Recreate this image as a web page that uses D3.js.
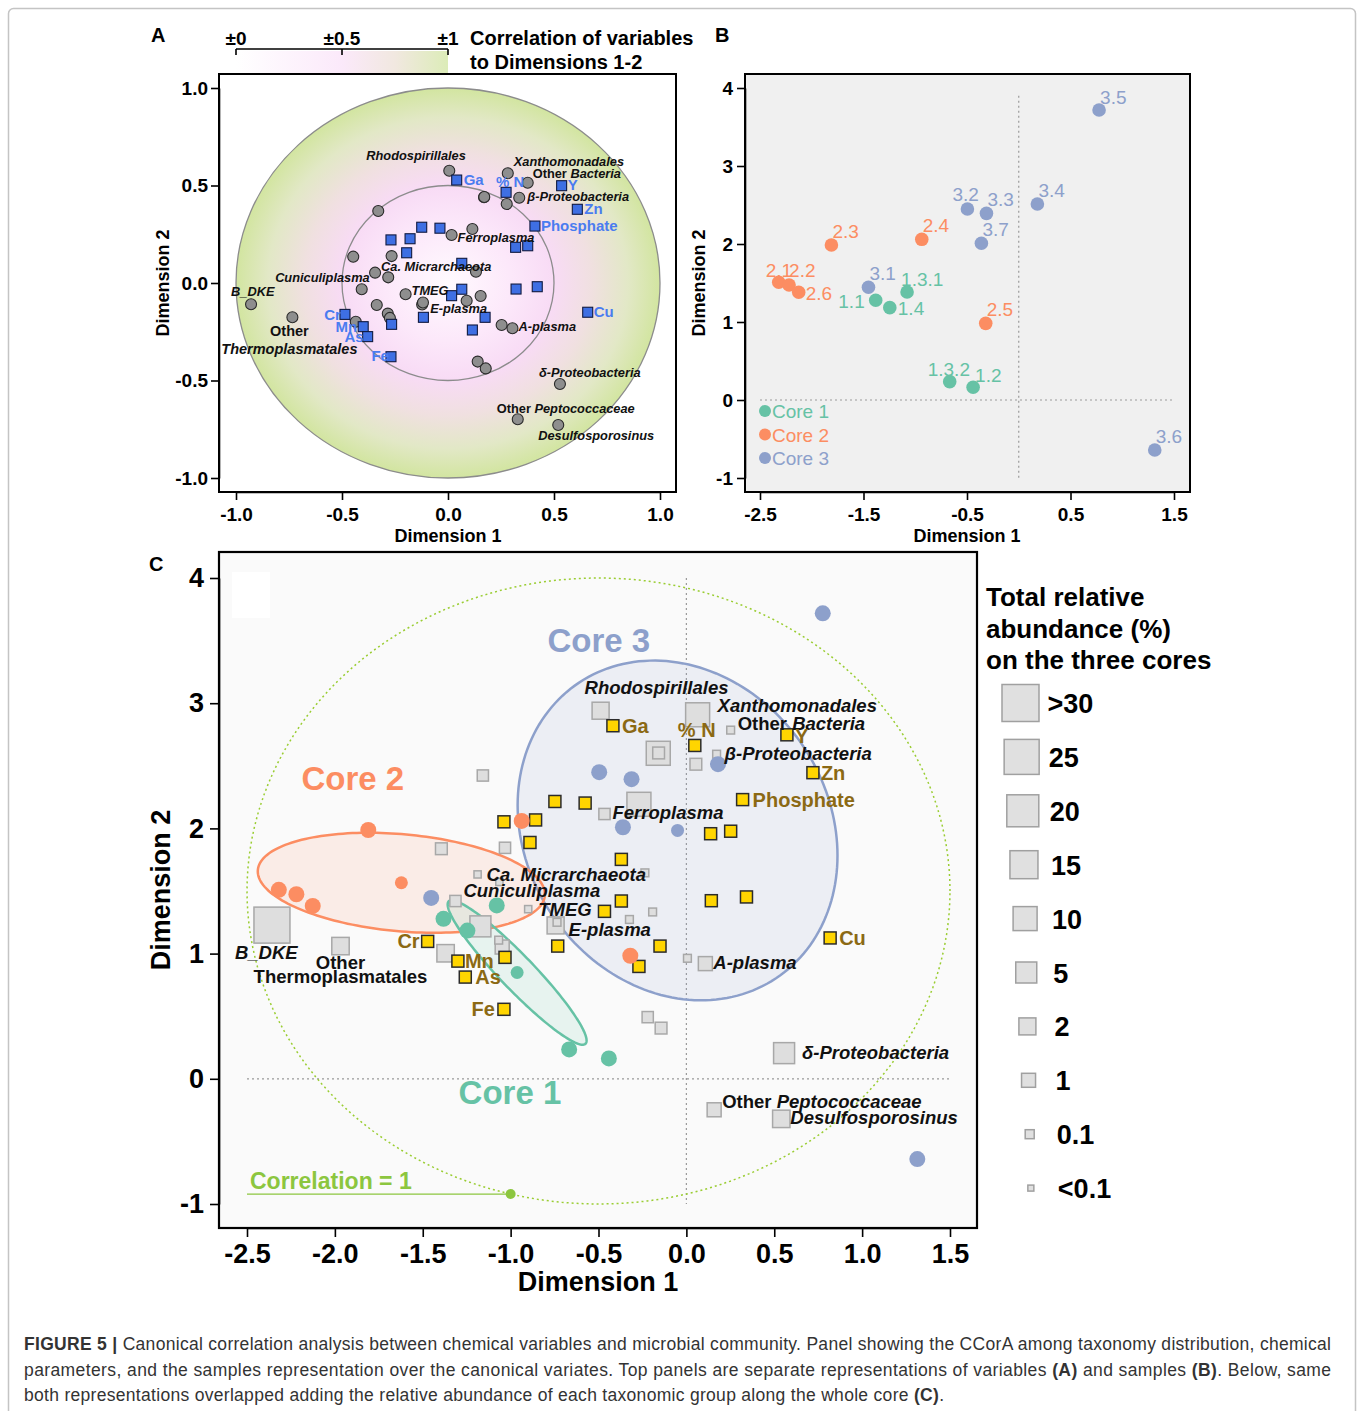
<!DOCTYPE html>
<html>
<head>
<meta charset="utf-8">
<style>
  body { margin: 0; background: #fff; }
  svg text { font-family: "Liberation Sans", Arial, Helvetica, sans-serif; }
</style>
</head>
<body>
<svg id="fig" width="1360" height="1411"></svg>
<script src="https://cdn.jsdelivr.net/npm/d3@7"></script>
<script>
// ---------- data ----------
// samples (panels B and C)
const sampleNames = ["1.1", "1.2", "1.3.1", "1.3.2", "1.4", "2.1", "2.2", "2.3", "2.4", "2.5", "2.6",
  "3.1", "3.2", "3.3", "3.4", "3.5", "3.6", "3.7"];
const sampleCore = [1, 1, 1, 1, 1, 2, 2, 2, 2, 2, 2, 3, 3, 3, 3, 3, 3, 3];
const sampleDim1 = [-1.382, -0.441, -1.079, -0.667, -1.246, -2.319, -2.219, -1.810, -0.937, -0.319, -2.126,
  -1.452, -0.496, -0.312, 0.180, 0.776, 1.314, -0.361];
const sampleDim2 = [1.278, 0.163, 1.385, 0.235, 1.184, 1.509, 1.474, 1.987, 2.060, 0.983, 1.381,
  1.445, 2.449, 2.393, 2.513, 3.718, -0.641, 2.009];

const coreNames = ["Core 1", "Core 2", "Core 3"];
// confidence ellipse semi-axis vectors, in (Dimension 1, Dimension 2) units
const coreAxisA = [[0.389, -0.569], [0.817, -0.091], [0.910, -0.200]];
const coreAxisB = [[-0.070, -0.094], [0, -0.389], [0, -1.342]];

// chemical variables: correlation with dimensions 1-2
const chemNames = ["Ga", "% N", "Y", "Zn", "Phosphate", "Cu", "Cr", "Mn", "As", "Fe",
  "", "", "", "", "", "", "", "", "", "", "", "", "", "", "", ""];
const chemDim1 = [0.041, 0.274, 0.536, 0.610, 0.410, 0.659, -0.486, -0.400, -0.379, -0.269,
  -0.124, -0.038, -0.269, -0.179, -0.195, 0.017, 0.065, -0.116, -0.266, 0.175, 0.115, 0.321, 0.421, 0.319, 0.376, 0.065];
const chemDim2 = [0.528, 0.465, 0.499, 0.378, 0.292, -0.150, -0.161, -0.224, -0.275, -0.378,
  0.286, 0.281, 0.221, 0.227, 0.155, -0.065, -0.032, -0.176, -0.212, -0.176, -0.241, -0.031, -0.019, 0.183, 0.191, 0.101];

// taxa: correlation with dimensions 1-2 and total relative abundance (%)
const taxaNames = ["Rhodospirillales", "", "", "", "Ca. Micrarchaeota", "", "Cuniculiplasma", "TMEG",
  "E-plasma", "", "", "", "", "", "B_DKE", "Other Thermoplasmatales", "", "", "", "A-plasma", "", "",
  "δ-Proteobacteria", "Other Peptococcaceae", "Desulfosporosinus", "", "", "Xanthomonadales",
  "Other Bacteria", "", "β-Proteobacteria", "Ferroplasma", "", ""];
const taxaDim1 = [0.006, -0.329, -0.447, -0.266, -0.344, -0.282, -0.407, -0.200,
  -0.122, -0.118, -0.336, -0.284, -0.274, -0.435, -0.929, -0.734, 0.088, 0.154, 0.253, 0.304, 0.140, 0.178,
  0.528, 0.329, 0.520, 0.170, 0.171, 0.282,
  0.376, 0.277, 0.336, 0.017, 0.115, 0.132];
const taxaDim2 = [0.576, 0.369, 0.135, 0.138, 0.053, 0.029, -0.032, -0.058,
  -0.110, -0.100, -0.113, -0.157, -0.179, -0.199, -0.109, -0.176, -0.091, -0.067, -0.215, -0.232, -0.403, -0.438,
  -0.518, -0.699, -0.728, 0.440, 0.441, 0.563,
  0.514, 0.405, 0.437, 0.246, 0.277, 0.058];
const taxaAbundance = [2, 0.5, 0.6, 0.5, 0.07, 0.07, 0.5, 0.07,
  2, 0.08, 5, 0.08, 1, 2.3, 30, 2.3, 0.08, 0.08, 0.08, 1, 0.5, 0.6,
  5, 1, 2.3, 10, 0.6, 10,
  0.08, 0.6, 0.08, 0.5, 10, 0.08];

const abundanceLabels = [">30", "25", "20", "15", "10", "5", "2", "1", "0.1", "<0.1"];
const abundanceValues = [35, 25, 20, 15, 10, 5, 2, 1, 0.1, 0.05];

const ticksA = [-1, -0.5, 0, 0.5, 1];
const ticksBx = [-2.5, -1.5, -0.5, 0.5, 1.5];
const ticksBy = [-1, 0, 1, 2, 3, 4];
const ticksCx = [-2.5, -2, -1.5, -1, -0.5, 0, 0.5, 1, 1.5];
const ticksCy = [-1, 0, 1, 2, 3, 4];
const corrTicks = [0, 0.5, 1];
const corrTickLabels = ["±0", "±0.5", "±1"];

// ---------- layout / style ----------
const FONT = '"Liberation Sans", Arial, Helvetica, sans-serif';
const coreColor = ["#66c2a5", "#fc8d62", "#8da0cb"];
const chemBlue = "#3e6fe3";
const chemBrown = "#8b6914";

// label nudges (px from the mark)
const labelA = {
  "Rhodospirillales": { dx: -83, dy: -11 },
  "Ca. Micrarchaeota": { dx: 6, dy: -2 },
  "Cuniculiplasma": { dx: 8, dy: -7, anchor: "end" },
  "TMEG": { dx: 6, dy: 1 },
  "E-plasma": { dx: 8, dy: 9 },
  "A-plasma": { dx: 6, dy: 3 },
  "B_DKE": { dx: -20, dy: -8 },
  "Other Thermoplasmatales": { dx: -3, dy: 19, anchor: "middle", gap: 18, size: 14.5 },
  "δ-Proteobacteria": { dx: -21, dy: -7 },
  "Other Peptococcaceae": { dx: -21, dy: -6 },
  "Desulfosporosinus": { dx: -20, dy: 15 },
  "Xanthomonadales": { dx: 6, dy: -7 },
  "Other Bacteria": { dx: 5, dy: -5 },
  "β-Proteobacteria": { dx: 8, dy: 3 },
  "Ferroplasma": { dx: 6, dy: 7 },
  "Ga": { dx: 7, dy: 5 }, "% N": { dx: -10, dy: -5 }, "Y": { dx: 6, dy: 4 }, "Zn": { dx: 7, dy: 5 },
  "Phosphate": { dx: 6, dy: 5 }, "Cu": { dx: 6, dy: 5 },
  "Cr": { dx: -4, dy: 6, anchor: "end" }, "Mn": { dx: -6, dy: 5, anchor: "end" },
  "As": { dx: -4, dy: 5, anchor: "end" }, "Fe": { dx: -2, dy: 4, anchor: "end" }
};
const labelC = {
  "Rhodospirillales": { dx: -16, dy: -17 },
  "Ca. Micrarchaeota": { dx: 9, dy: 7 },
  "Cuniculiplasma": { dx: 8, dy: -4 },
  "TMEG": { dx: 10, dy: 7 },
  "E-plasma": { dx: 13, dy: 11 },
  "A-plasma": { dx: 8, dy: 5 },
  "B_DKE": { dx: -37, dy: 34 },
  "Other Thermoplasmatales": { dx: 0, dy: 23, anchor: "middle", gap: 14, upright: true },
  "δ-Proteobacteria": { dx: 18, dy: 6 },
  "Other Peptococcaceae": { dx: 8, dy: -2 },
  "Desulfosporosinus": { dx: 9, dy: 5 },
  "Xanthomonadales": { dx: 20, dy: -3 },
  "Other Bacteria": { dx: 7, dy: 0 },
  "β-Proteobacteria": { dx: 8, dy: 6 },
  "Ferroplasma": { dx: 8, dy: 5 },
  "Ga": { dx: 9, dy: 7 }, "% N": { dx: -17, dy: -8 }, "Y": { dx: 8, dy: 8 }, "Zn": { dx: 8, dy: 7 },
  "Phosphate": { dx: 10, dy: 7 }, "Cu": { dx: 9, dy: 7 },
  "Cr": { dx: -8, dy: 7, anchor: "end" }, "Mn": { dx: 7, dy: 7 },
  "As": { dx: 10, dy: 7 }, "Fe": { dx: -9, dy: 7, anchor: "end" }
};
const labelB = {
  "3.2": [-15, -8], "2.1": [-13, -5], "2.2": [0, -8], "1.3.1": [-6, -6], "1.1": [-11, 8, "end"],
  "1.4": [8, 7], "2.6": [7, 8], "1.3.2": [-22, -6], "1.2": [2, -5], "3.5": [1, -6]
};

const svg = d3.select("#fig");
const defs = svg.append("defs");
const fmt1 = d => d3.format(".1f")(d).replace("\u2212", "-");

// outer frame
svg.append("rect")
  .attr("x", 8.5).attr("y", 8.5).attr("width", 1347).attr("height", 1440).attr("rx", 5)
  .attr("fill", "none").attr("stroke", "#c4c4c4").attr("stroke-width", 1.5);

function styleAxis(g, size) {
  g.attr("font-family", null).attr("font-size", null);
  g.selectAll("text").attr("font-size", size).attr("font-weight", "bold").attr("fill", "#000")
    .style("font-family", FONT);
  g.selectAll("line").attr("stroke", "#000").attr("stroke-width", 1.6);
  g.select(".domain").attr("stroke", "#000").attr("stroke-width", 1.6);
}

function addTaxonText(g, name, px, py, nudge, size) {
  const anchor = nudge.anchor || "start";
  const fs = nudge.size || size;
  const t = g.append("text")
    .attr("x", px + nudge.dx).attr("y", py + nudge.dy)
    .attr("text-anchor", anchor).attr("font-size", fs).attr("font-weight", "bold").attr("fill", "#111");
  if (name.startsWith("Other ")) {
    const rest = name.slice(6);
    if (nudge.gap) {
      t.text("Other");
      g.append("text")
        .attr("x", px + nudge.dx).attr("y", py + nudge.dy + nudge.gap)
        .attr("text-anchor", anchor).attr("font-size", fs).attr("font-weight", "bold").attr("fill", "#111")
        .attr("font-style", nudge.upright ? "normal" : "italic")
        .text(rest);
    } else {
      t.append("tspan").text("Other ");
      t.append("tspan").attr("font-style", "italic").text(rest);
    }
  } else {
    t.attr("font-style", "italic").text(name);
  }
}

function ellipsePath(cx, cy, a, b, xs, ys) {
  const ts = d3.range(0, 2 * Math.PI, Math.PI / 90);
  return d3.line()
    .x(t => xs(cx + a[0] * Math.cos(t) + b[0] * Math.sin(t)))
    .y(t => ys(cy + a[1] * Math.cos(t) + b[1] * Math.sin(t)))
    .curve(d3.curveLinearClosed)(ts);
}

// ================= Panel A =================
const xA = d3.scaleLinear().domain([-1, 1]).range([236, 660]);
const yA = d3.scaleLinear().domain([-1, 1]).range([478, 88]);
const boxA = { x0: 219, x1: 676, y0: 74, y1: 492 };

const rg = defs.append("radialGradient").attr("id", "corrGrad");
[[0, "#fffafe"], [0.3, "#fce8fa"], [0.5, "#f8dbf5"], [0.68, "#f0e0e0"], [0.85, "#e2e8c6"], [1, "#d2e5a0"]]
  .forEach(s => rg.append("stop").attr("offset", s[0]).attr("stop-color", s[1]));
const lg = defs.append("linearGradient").attr("id", "corrBar");
[[0, "#ffffff"], [0.5, "#fbe9fa"], [0.75, "#f1e8e0"], [1, "#dcecb8"]]
  .forEach(s => lg.append("stop").attr("offset", s[0]).attr("stop-color", s[1]));

const gA = svg.append("g");
gA.append("rect").attr("x", boxA.x0).attr("y", boxA.y0)
  .attr("width", boxA.x1 - boxA.x0).attr("height", boxA.y1 - boxA.y0).attr("fill", "#fff");
gA.append("ellipse")
  .attr("cx", xA(0)).attr("cy", yA(0))
  .attr("rx", xA(1) - xA(0)).attr("ry", yA(0) - yA(1))
  .attr("fill", "url(#corrGrad)").attr("stroke", "#8c8c8c").attr("stroke-width", 1.3);
gA.append("ellipse")
  .attr("cx", xA(0)).attr("cy", yA(0))
  .attr("rx", xA(0.5) - xA(0)).attr("ry", yA(0) - yA(0.5))
  .attr("fill", "none").attr("stroke", "#8c8c8c").attr("stroke-width", 1.3);

// taxa circles
taxaNames.forEach((n, i) => {
  gA.append("circle").attr("cx", xA(taxaDim1[i])).attr("cy", yA(taxaDim2[i])).attr("r", 5.5)
    .attr("fill", "#8e8e8e").attr("stroke", "#2a2a2a").attr("stroke-width", 1.1);
});
// chemical squares
chemNames.forEach((n, i) => {
  gA.append("rect").attr("x", xA(chemDim1[i]) - 5).attr("y", yA(chemDim2[i]) - 5)
    .attr("width", 10).attr("height", 10)
    .attr("fill", chemBlue).attr("stroke", "#111a40").attr("stroke-width", 1.1);
});
taxaNames.forEach((n, i) => {
  if (n) addTaxonText(gA, n, xA(taxaDim1[i]), yA(taxaDim2[i]), labelA[n], 12.8);
});
chemNames.forEach((n, i) => {
  if (!n) return;
  const l = labelA[n];
  gA.append("text").attr("x", xA(chemDim1[i]) + l.dx).attr("y", yA(chemDim2[i]) + l.dy)
    .attr("text-anchor", l.anchor || "start").attr("font-size", 15).attr("font-weight", "bold")
    .attr("fill", "#4a7cf0").text(n);
});

gA.append("rect").attr("x", boxA.x0).attr("y", boxA.y0)
  .attr("width", boxA.x1 - boxA.x0).attr("height", boxA.y1 - boxA.y0)
  .attr("fill", "none").attr("stroke", "#000").attr("stroke-width", 2);

const axA_y = gA.append("g").attr("transform", `translate(${boxA.x0},0)`)
  .call(d3.axisLeft(yA).tickValues(ticksA).tickFormat(fmt1).tickSize(8).tickSizeOuter(0).tickPadding(3));
styleAxis(axA_y, 19);
const axA_x = gA.append("g").attr("transform", `translate(0,${boxA.y1})`)
  .call(d3.axisBottom(xA).tickValues(ticksA).tickFormat(fmt1).tickSize(8).tickSizeOuter(0).tickPadding(8));
styleAxis(axA_x, 19);

gA.append("text").attr("x", xA(0)).attr("y", 542).attr("text-anchor", "middle")
  .attr("font-size", 18).attr("font-weight", "bold").text("Dimension 1");
gA.append("text").attr("transform", `translate(169,${yA(0)}) rotate(-90)`).attr("text-anchor", "middle")
  .attr("font-size", 18).attr("font-weight", "bold").text("Dimension 2");

// correlation colour key
const keyX = d3.scaleLinear().domain([0, 1]).range([xA(-1), xA(0)]);
gA.append("rect").attr("x", keyX(0)).attr("y", 51).attr("width", keyX(1) - keyX(0)).attr("height", 22)
  .attr("fill", "url(#corrBar)");
gA.append("line").attr("x1", keyX(0)).attr("x2", keyX(1)).attr("y1", 49).attr("y2", 49)
  .attr("stroke", "#000").attr("stroke-width", 1.6);
corrTicks.forEach((d, i) => {
  gA.append("line").attr("x1", keyX(d)).attr("x2", keyX(d)).attr("y1", 49).attr("y2", 55)
    .attr("stroke", "#000").attr("stroke-width", 1.6);
  gA.append("text").attr("x", keyX(d)).attr("y", 45).attr("text-anchor", "middle")
    .attr("font-size", 19).attr("font-weight", "bold").text(corrTickLabels[i]);
});
gA.append("text").attr("x", 470).attr("y", 45).attr("font-size", 20).attr("font-weight", "bold")
  .text("Correlation of variables");
gA.append("text").attr("x", 470).attr("y", 69).attr("font-size", 20).attr("font-weight", "bold")
  .text("to Dimensions 1-2");
svg.append("text").attr("x", 151).attr("y", 42).attr("font-size", 20).attr("font-weight", "bold").text("A");

// ================= Panel B =================
const xB = d3.scaleLinear().domain([-2.5, 1.5]).range([760, 1174]);
const yB = d3.scaleLinear().domain([-1, 4]).range([478, 88]);
const boxB = { x0: 745, x1: 1190, y0: 74, y1: 492 };
const gB = svg.append("g");
gB.append("rect").attr("x", boxB.x0).attr("y", boxB.y0)
  .attr("width", boxB.x1 - boxB.x0).attr("height", boxB.y1 - boxB.y0)
  .attr("fill", "#f0f0f0").attr("stroke", "#000").attr("stroke-width", 2);
gB.append("line").attr("x1", xB(0)).attr("x2", xB(0)).attr("y1", yB(3.9)).attr("y2", yB(-1))
  .attr("stroke", "#9a9a9a").attr("stroke-width", 1.2).attr("stroke-dasharray", "2,3");
gB.append("line").attr("x1", xB(-2.5)).attr("x2", xB(1.5)).attr("y1", yB(0)).attr("y2", yB(0))
  .attr("stroke", "#9a9a9a").attr("stroke-width", 1.2).attr("stroke-dasharray", "2,3");

sampleNames.forEach((n, i) => {
  const px = xB(sampleDim1[i]), py = yB(sampleDim2[i]);
  const col = coreColor[sampleCore[i] - 1];
  gB.append("circle").attr("cx", px).attr("cy", py).attr("r", 6.8).attr("fill", col);
  const nd = labelB[n] || [1, -7];
  gB.append("text").attr("x", px + nd[0]).attr("y", py + nd[1]).attr("text-anchor", nd[2] || "start")
    .attr("font-size", 19).attr("fill", col).text(n);
});
coreNames.forEach((c, k) => {
  const ly = 411 + k * 23.5;
  gB.append("circle").attr("cx", 765).attr("cy", ly).attr("r", 6).attr("fill", coreColor[k]);
  gB.append("text").attr("x", 772).attr("y", ly + 7).attr("font-size", 19).attr("fill", coreColor[k]).text(c);
});

const axB_y = gB.append("g").attr("transform", `translate(${boxB.x0},0)`)
  .call(d3.axisLeft(yB).tickValues(ticksBy).tickFormat(d => String(d)).tickSize(8).tickSizeOuter(0).tickPadding(4));
styleAxis(axB_y, 19);
const axB_x = gB.append("g").attr("transform", `translate(0,${boxB.y1})`)
  .call(d3.axisBottom(xB).tickValues(ticksBx).tickFormat(d => String(d)).tickSize(8).tickSizeOuter(0).tickPadding(8));
styleAxis(axB_x, 19);
gB.append("text").attr("x", xB(-0.5)).attr("y", 542).attr("text-anchor", "middle")
  .attr("font-size", 18).attr("font-weight", "bold").text("Dimension 1");
gB.append("text").attr("transform", `translate(705,${yA(0)}) rotate(-90)`).attr("text-anchor", "middle")
  .attr("font-size", 18).attr("font-weight", "bold").text("Dimension 2");
svg.append("text").attr("x", 715).attr("y", 42).attr("font-size", 20).attr("font-weight", "bold").text("B");

// ================= Panel C =================
const xC = d3.scaleLinear().domain([-2.5, 1.5]).range([247, 950]);
const yC = d3.scaleLinear().domain([-1, 4]).range([1204, 578]);
const boxC = { x0: 219, x1: 977, y0: 552, y1: 1228 };
// correlation circle spans the whole axis range
const corrCx = d3.mean(xC.domain()), corrCy = d3.mean(yC.domain());
const corrRx = (xC.domain()[1] - xC.domain()[0]) / 2, corrRy = (yC.domain()[1] - yC.domain()[0]) / 2;
const overlay = (d1, d2) => [xC(corrCx + corrRx * d1), yC(corrCy + corrRy * d2)];
const side = d3.scaleLinear()
  .domain(abundanceValues.slice().reverse())
  .range([6, 9, 14, 17, 21, 24, 28, 32, 35, 37]).clamp(true);

const gC = svg.append("g");
gC.append("rect").attr("x", boxC.x0).attr("y", boxC.y0)
  .attr("width", boxC.x1 - boxC.x0).attr("height", boxC.y1 - boxC.y0).attr("fill", "#fafafa");
gC.append("rect").attr("x", 232).attr("y", 572).attr("width", 38).attr("height", 46).attr("fill", "#fff");

gC.append("line").attr("x1", xC(0)).attr("x2", xC(0)).attr("y1", yC(4)).attr("y2", yC(-1))
  .attr("stroke", "#999").attr("stroke-width", 1.2).attr("stroke-dasharray", "2,3");
gC.append("line").attr("x1", xC(-2.5)).attr("x2", xC(1.5)).attr("y1", yC(0)).attr("y2", yC(0))
  .attr("stroke", "#999").attr("stroke-width", 1.2).attr("stroke-dasharray", "2,3");

// correlation = 1 circle
gC.append("path")
  .attr("d", ellipsePath(corrCx, corrCy, [corrRx, 0], [0, corrRy], xC, yC))
  .attr("fill", "none").attr("stroke", "#9acd32").attr("stroke-width", 1.5).attr("stroke-dasharray", "2,3");
const corrDotX = -1;
const corrDotY = corrCy - corrRy * Math.sqrt(1 - Math.pow((corrDotX - corrCx) / corrRx, 2));
gC.append("line").attr("x1", xC(-2.5)).attr("x2", xC(corrDotX)).attr("y1", yC(corrDotY)).attr("y2", yC(corrDotY))
  .attr("stroke", "#8cc63f").attr("stroke-width", 1.3);
gC.append("circle").attr("cx", xC(corrDotX)).attr("cy", yC(corrDotY)).attr("r", 5).attr("fill", "#8cc63f");
gC.append("text").attr("x", xC(-2.5) + 3).attr("y", yC(corrDotY) - 5).attr("font-size", 23)
  .attr("font-weight", "bold").attr("fill", "#8cc63f").text("Correlation = 1");

// core ellipses around centroids
const centroids = coreNames.map((c, k) => {
  const idx = d3.range(sampleNames.length).filter(i => sampleCore[i] === k + 1);
  return [d3.mean(idx, i => sampleDim1[i]), d3.mean(idx, i => sampleDim2[i])];
});
[2, 1, 0].forEach(k => {
  gC.append("path")
    .attr("d", ellipsePath(centroids[k][0], centroids[k][1], coreAxisA[k], coreAxisB[k], xC, yC))
    .attr("fill", coreColor[k]).attr("fill-opacity", 0.12)
    .attr("stroke", coreColor[k]).attr("stroke-width", 2.5);
});

// taxa squares sized by abundance (largest first)
d3.range(taxaNames.length).sort((a, b) => taxaAbundance[b] - taxaAbundance[a]).forEach(i => {
  const [px, py] = overlay(taxaDim1[i], taxaDim2[i]);
  const s = side(taxaAbundance[i]);
  gC.append("rect").attr("x", px - s / 2).attr("y", py - s / 2).attr("width", s).attr("height", s)
    .attr("fill", "#dedede").attr("stroke", "#a8a8a8").attr("stroke-width", 1.5);
});
// chemical squares
chemNames.forEach((n, i) => {
  const [px, py] = overlay(chemDim1[i], chemDim2[i]);
  gC.append("rect").attr("x", px - 6).attr("y", py - 6).attr("width", 12).attr("height", 12)
    .attr("fill", "#ffd500").attr("stroke", "#2b2b2b").attr("stroke-width", 1.5);
});
// samples
sampleNames.forEach((n, i) => {
  gC.append("circle").attr("cx", xC(sampleDim1[i])).attr("cy", yC(sampleDim2[i])).attr("r", 8)
    .attr("fill", coreColor[sampleCore[i] - 1]);
});
centroids.forEach((c, k) => {
  gC.append("circle").attr("cx", xC(c[0])).attr("cy", yC(c[1])).attr("r", 6.5).attr("fill", coreColor[k]);
});

taxaNames.forEach((n, i) => {
  if (!n) return;
  const [px, py] = overlay(taxaDim1[i], taxaDim2[i]);
  addTaxonText(gC, n, px, py, labelC[n], 18.5);
});
chemNames.forEach((n, i) => {
  if (!n) return;
  const [px, py] = overlay(chemDim1[i], chemDim2[i]);
  const l = labelC[n];
  gC.append("text").attr("x", px + l.dx).attr("y", py + l.dy)
    .attr("text-anchor", l.anchor || "start").attr("font-size", 20).attr("font-weight", "bold")
    .attr("fill", chemBrown).text(n);
});

// core names (data-space positions)
const coreLabelPos = [[-1.004, -0.2], [-1.898, 2.31], [-0.498, 3.41]];
coreNames.forEach((c, k) => {
  gC.append("text").attr("x", xC(coreLabelPos[k][0])).attr("y", yC(coreLabelPos[k][1]))
    .attr("text-anchor", "middle").attr("font-size", 33).attr("font-weight", "bold")
    .attr("fill", coreColor[k]).text(c);
});

gC.append("rect").attr("x", boxC.x0).attr("y", boxC.y0)
  .attr("width", boxC.x1 - boxC.x0).attr("height", boxC.y1 - boxC.y0)
  .attr("fill", "none").attr("stroke", "#000").attr("stroke-width", 2.2);
const axC_y = gC.append("g").attr("transform", `translate(${boxC.x0},0)`)
  .call(d3.axisLeft(yC).tickValues(ticksCy).tickFormat(d => String(d)).tickSize(9).tickSizeOuter(0).tickPadding(6));
styleAxis(axC_y, 27);
const axC_x = gC.append("g").attr("transform", `translate(0,${boxC.y1})`)
  .call(d3.axisBottom(xC).tickValues(ticksCx).tickFormat(fmt1).tickSize(9).tickSizeOuter(0).tickPadding(7));
styleAxis(axC_x, 27);
gC.append("text").attr("x", 598).attr("y", 1291).attr("text-anchor", "middle")
  .attr("font-size", 27).attr("font-weight", "bold").text("Dimension 1");
gC.append("text").attr("transform", `translate(170,${(boxC.y0 + boxC.y1) / 2}) rotate(-90)`)
  .attr("text-anchor", "middle").attr("font-size", 27).attr("font-weight", "bold").text("Dimension 2");
svg.append("text").attr("x", 149).attr("y", 571).attr("font-size", 20).attr("font-weight", "bold").text("C");

// abundance legend
const gL = svg.append("g");
["Total relative", "abundance (%)", "on the three cores"].forEach((t, i) => {
  gL.append("text").attr("x", 986).attr("y", 606 + i * 31.5).attr("font-size", 26)
    .attr("font-weight", "bold").text(t);
});
abundanceLabels.forEach((lab, i) => {
  const cy = 703 + i * 53.9;
  const s = side(abundanceValues[i]);
  const cx = 1020.5 + i * 1.15;
  gL.append("rect").attr("x", cx - s / 2).attr("y", cy - s / 2).attr("width", s).attr("height", s)
    .attr("fill", "#e0e0e0").attr("stroke", "#a0a0a0").attr("stroke-width", 1.5);
  gL.append("text").attr("x", cx + 27).attr("y", cy + 10).attr("font-size", 27)
    .attr("font-weight", "bold").text(lab);
});

// ================= caption =================
const captionLines = [
  [["FIGURE 5 | ", true], ["Canonical correlation analysis between chemical variables and microbial community. Panel showing the CCorA among taxonomy distribution, chemical", false]],
  [["parameters, and the samples representation over the canonical variates. Top panels are separate representations of variables ", false], ["(A)", true], [" and samples ", false], ["(B)", true], [". Below, same", false]],
  [["both representations overlapped adding the relative abundance of each taxonomic group along the whole core ", false], ["(C)", true], [".", false]]
];
const captionWidths = [1307, 1307, 920];
captionLines.forEach((parts, i) => {
  const t = svg.append("text").attr("x", 24).attr("y", 1350 + i * 25.5)
    .attr("font-size", 17.5).attr("fill", "#333")
    .attr("textLength", captionWidths[i]).attr("lengthAdjust", "spacing");
  parts.forEach(p => t.append("tspan").attr("font-weight", p[1] ? "bold" : "normal").text(p[0]));
});
</script>
</body>
</html>
